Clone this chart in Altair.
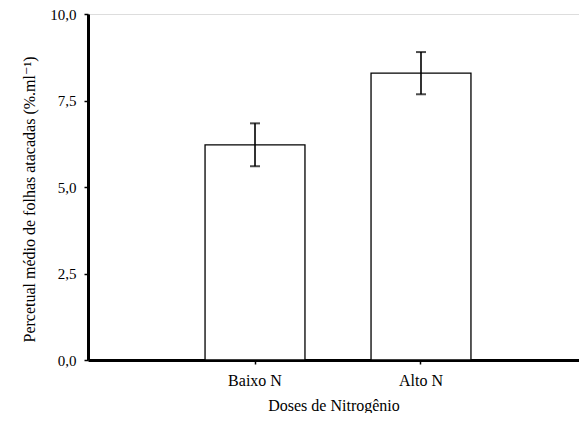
import altair as alt
import pandas as pd

categories = ["Baixo N", "Alto N"]
means = [6.22, 8.29]
errors = [0.62, 0.61]
y_ticks = [0, 2.5, 5, 7.5, 10]

df = pd.DataFrame({"dose": categories, "mean": means, "err": errors})
df["low"] = df["mean"] - df["err"]
df["high"] = df["mean"] + df["err"]

FONT = "'Times New Roman', 'Liberation Serif', Tinos, 'DejaVu Serif', serif"

xscale = alt.Scale(domain=categories, paddingInner=0.398, paddingOuter=0.678, align=0.52)
yscale = alt.Scale(domain=[0, 10], nice=False)

xaxis = alt.Axis(
    title="Doses de Nitrogênio", labelAngle=0, tickSize=4, tickWidth=1.5,
    tickColor="black", domainColor="black", domainWidth=3,
    labelFont=FONT, labelFontSize=16, labelColor="black", labelPadding=8,
    titleFont=FONT, titleFontSize=16, titleFontWeight="normal", titleColor="black",
    titleBaseline="alphabetic", titleY=50, grid=False,
)
yaxis = alt.Axis(
    title="Percetual médio de folhas atacadas (%.ml⁻¹)", values=y_ticks,
    labelExpr="replace(format(datum.value, '.1f'), '.', ',')",
    tickSize=4, tickWidth=1.5, tickColor="black", domainColor="black", domainWidth=3,
    labelFont=FONT, labelFontSize=15, labelColor="black", labelPadding=8,
    titleFont=FONT, titleFontSize=16, titleFontWeight="normal", titleColor="black",
    titleBaseline="alphabetic", titleX=-54, titleY=185, grid=False,
)

base = alt.Chart(df)

bars = base.mark_bar(fill="white", stroke="black", strokeWidth=1.3).encode(
    x=alt.X("dose:N", scale=xscale, axis=xaxis, sort=categories),
    y=alt.Y("mean:Q", scale=yscale, axis=yaxis),
)

rules = base.mark_rule(color="black", strokeWidth=1.6).encode(
    x=alt.X("dose:N", scale=xscale, sort=categories),
    y=alt.Y("low:Q", scale=yscale),
    y2="high:Q",
)

cap_low = base.mark_tick(color="black", size=10, thickness=2, orient="horizontal").encode(
    x=alt.X("dose:N", scale=xscale, sort=categories),
    y=alt.Y("low:Q", scale=yscale),
)
cap_high = base.mark_tick(color="black", size=10, thickness=2, orient="horizontal").encode(
    x=alt.X("dose:N", scale=xscale, sort=categories),
    y=alt.Y("high:Q", scale=yscale),
)

chart = alt.layer(bars, rules, cap_low, cap_high).properties(
    width=491, height=346,
    autosize=alt.AutoSizeParams(type="none"),
    padding={"left": 80, "top": 6, "right": 0, "bottom": 53},
).configure_view(stroke=None).configure(background="white")

chart.save("out.html", embed_options={"renderer": "svg", "actions": False})
